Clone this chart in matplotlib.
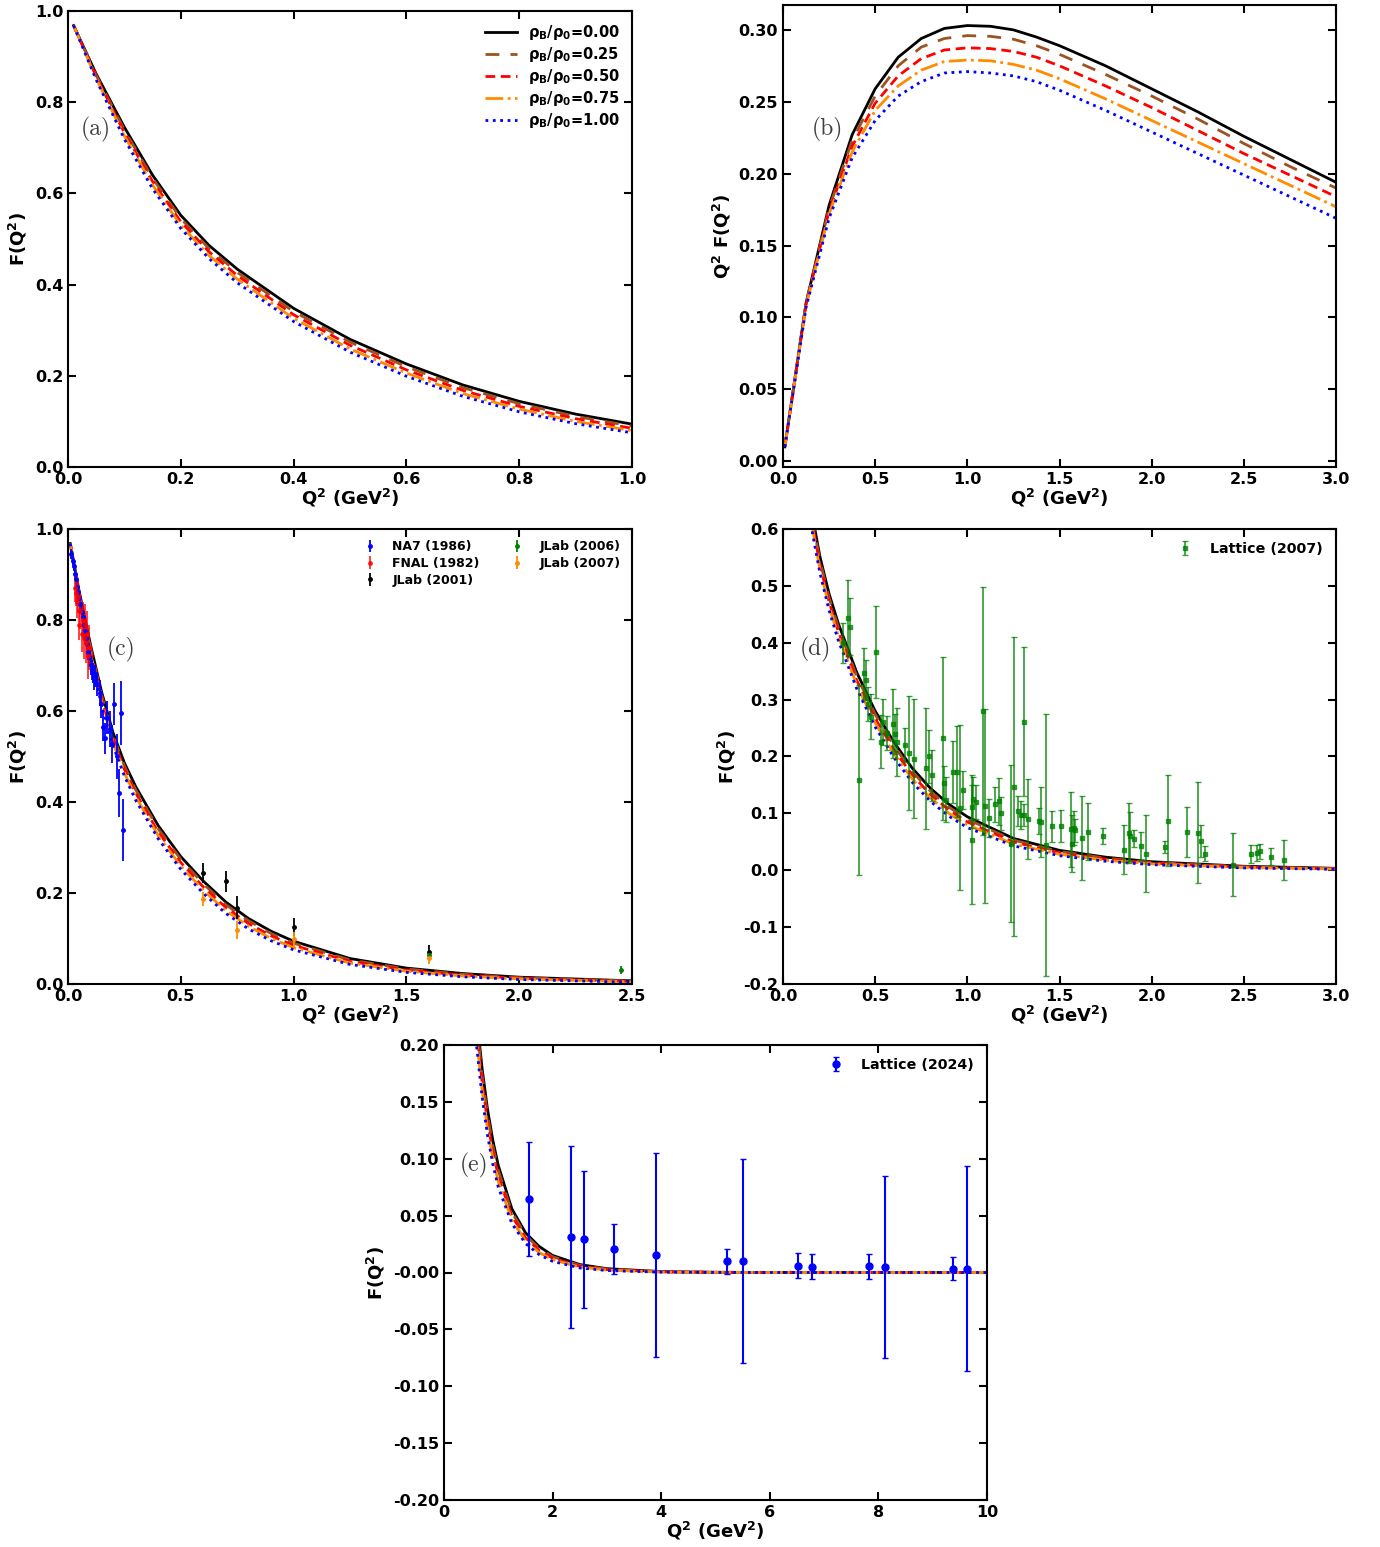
import matplotlib
matplotlib.use("Agg")
import matplotlib.pyplot as plt
import numpy as np

plt.rcParams['font.family'] = ['DejaVu Sans']
plt.rcParams['font.weight'] = 'bold'
plt.rcParams['axes.labelweight'] = 'bold'
plt.rcParams['mathtext.default'] = 'bf'
plt.rcParams['axes.linewidth'] = 1.5

# ---- model curves F(Q^2) for rho_B/rho_0 = 0, 0.25, 0.5, 0.75, 1 ----
q2 = [0.01, 0.05, 0.1, 0.15, 0.2, 0.25, 0.3, 0.4, 0.5, 0.6, 0.7, 0.8, 0.9, 1.0,
      1.25, 1.5, 1.75, 2.0, 2.5, 3.0, 4.0, 5.0, 6.0, 8.0, 10.0]
f_000 = [0.968, 0.862, 0.745, 0.640, 0.552, 0.486, 0.434, 0.348, 0.280, 0.226, 0.180, 0.144, 0.116, 0.094,
         0.056, 0.035, 0.023, 0.015, 0.0070, 0.0034, 0.0008, 0.0002, 0.00005, 0.0, 0.0]
f_025 = [0.968, 0.859, 0.739, 0.633, 0.545, 0.479, 0.427, 0.341, 0.274, 0.220, 0.174, 0.139, 0.111, 0.0896,
         0.0530, 0.0330, 0.0213, 0.0139, 0.0063, 0.0030, 0.0007, 0.00017, 0.00004, 0.0, 0.0]
f_050 = [0.968, 0.856, 0.733, 0.626, 0.538, 0.472, 0.420, 0.334, 0.267, 0.213, 0.168, 0.133, 0.106, 0.0849,
         0.0497, 0.0306, 0.0195, 0.0126, 0.0055, 0.0026, 0.0006, 0.00014, 0.00003, 0.0, 0.0]
f_075 = [0.968, 0.852, 0.726, 0.618, 0.530, 0.464, 0.412, 0.326, 0.259, 0.206, 0.161, 0.127, 0.100, 0.0798,
         0.0461, 0.0280, 0.0176, 0.0112, 0.0048, 0.0021, 0.0004, 0.0001, 0.00002, 0.0, 0.0]
f_100 = [0.968, 0.849, 0.719, 0.610, 0.523, 0.457, 0.404, 0.319, 0.252, 0.199, 0.155, 0.121, 0.095, 0.075,
         0.043, 0.0256, 0.0158, 0.0098, 0.0040, 0.0017, 0.0003, 0.00007, 0.00001, 0.0, 0.0]

# ---- Q^2 F(Q^2), panel (b) ----
q2_b = [0.01, 0.125, 0.25, 0.375, 0.5, 0.625, 0.75, 0.875, 1.0, 1.125, 1.25, 1.375, 1.5,
        1.75, 2.0, 2.25, 2.5, 2.75, 3.0]
qf_000 = [0.010, 0.110, 0.178, 0.227, 0.259, 0.281, 0.294, 0.301, 0.303, 0.3025, 0.300, 0.295, 0.289,
          0.275, 0.259, 0.243, 0.226, 0.210, 0.194]
qf_025 = [0.010, 0.110, 0.176, 0.223, 0.254, 0.275, 0.288, 0.294, 0.296, 0.2955, 0.2935, 0.289, 0.283,
          0.269, 0.254, 0.238, 0.221, 0.205, 0.190]
qf_050 = [0.010, 0.109, 0.174, 0.219, 0.249, 0.268, 0.280, 0.286, 0.2875, 0.287, 0.285, 0.281, 0.275,
          0.261, 0.246, 0.230, 0.214, 0.199, 0.184]
qf_075 = [0.010, 0.108, 0.172, 0.215, 0.244, 0.261, 0.272, 0.278, 0.279, 0.2785, 0.276, 0.272, 0.266,
          0.252, 0.237, 0.222, 0.207, 0.192, 0.177]
qf_100 = [0.010, 0.107, 0.169, 0.211, 0.237, 0.254, 0.264, 0.270, 0.271, 0.270, 0.268, 0.264, 0.258,
          0.244, 0.229, 0.214, 0.199, 0.184, 0.169]

rho_labels = [r'$\rho_B/\rho_0$=0.00', r'$\rho_B/\rho_0$=0.25', r'$\rho_B/\rho_0$=0.50',
              r'$\rho_B/\rho_0$=0.75', r'$\rho_B/\rho_0$=1.00']

# ---- experimental data, panel (c) ----
na7_q2 = [0.015, 0.020, 0.025, 0.030, 0.035, 0.040, 0.045, 0.050, 0.055, 0.060, 0.065, 0.070, 0.075,
          0.080, 0.085, 0.090, 0.095, 0.100, 0.105, 0.110, 0.115, 0.120, 0.130, 0.140, 0.145, 0.155,
          0.165, 0.175, 0.185, 0.195, 0.205, 0.215, 0.225, 0.235, 0.245]
na7_f = [0.945, 0.930, 0.918, 0.902, 0.890, 0.873, 0.862, 0.848, 0.836, 0.818, 0.806, 0.790, 0.776,
         0.760, 0.748, 0.730, 0.718, 0.700, 0.690, 0.684, 0.670, 0.676, 0.660, 0.640, 0.615, 0.565,
         0.540, 0.585, 0.560, 0.528, 0.615, 0.500, 0.420, 0.595, 0.338]
na7_err = [0.010, 0.010, 0.010, 0.011, 0.011, 0.012, 0.012, 0.013, 0.013, 0.014, 0.014, 0.015, 0.016,
           0.016, 0.017, 0.018, 0.019, 0.020, 0.021, 0.022, 0.023, 0.024, 0.026, 0.028, 0.030, 0.032,
           0.034, 0.036, 0.040, 0.042, 0.046, 0.050, 0.052, 0.070, 0.068]

fnal_q2 = [0.030, 0.035, 0.040, 0.045, 0.050, 0.055, 0.060, 0.065, 0.070, 0.075, 0.080, 0.085, 0.090, 0.095]
fnal_f = [0.870, 0.860, 0.840, 0.850, 0.790, 0.820, 0.770, 0.800, 0.760, 0.790, 0.750, 0.770, 0.720, 0.740]
fnal_err = [0.030, 0.030, 0.035, 0.035, 0.035, 0.040, 0.040, 0.040, 0.045, 0.045, 0.045, 0.050, 0.050, 0.050]

jlab01_q2 = [0.60, 0.70, 0.75, 1.00, 1.60]
jlab01_f = [0.245, 0.226, 0.168, 0.125, 0.071]
jlab01_err = [0.022, 0.023, 0.025, 0.020, 0.015]

jlab06_q2 = [1.60, 2.45]
jlab06_f = [0.064, 0.031]
jlab06_err = [0.010, 0.009]

jlab07_q2 = [0.60, 0.75, 1.00, 1.60]
jlab07_f = [0.187, 0.119, 0.098, 0.057]
jlab07_err = [0.015, 0.020, 0.016, 0.012]

# ---- lattice (2007), panel (d) ----
lat07_q2 = [0.324, 0.351, 0.366, 0.412, 0.441, 0.450, 0.462, 0.475, 0.507, 0.530, 0.543, 0.566, 0.599,
            0.610, 0.620, 0.662, 0.684, 0.713, 0.775, 0.790, 0.807, 0.869, 0.873, 0.884, 0.924, 0.946,
            0.960, 0.975, 1.024, 1.024, 1.033, 1.046, 1.084, 1.097, 1.115, 1.152, 1.172, 1.183, 1.237,
            1.251, 1.273, 1.292, 1.306, 1.306, 1.330, 1.390, 1.400, 1.428, 1.458, 1.508, 1.563, 1.568,
            1.578, 1.584, 1.620, 1.655, 1.735, 1.850, 1.878, 1.880, 1.904, 1.940, 1.970, 2.073, 2.090,
            2.190, 2.250, 2.270, 2.290, 2.440, 2.540, 2.570, 2.585, 2.650, 2.720]
lat07_f = [0.399, 0.443, 0.428, 0.159, 0.346, 0.335, 0.293, 0.270, 0.383, 0.226, 0.261, 0.241, 0.258,
           0.240, 0.226, 0.220, 0.206, 0.196, 0.179, 0.200, 0.167, 0.232, 0.153, 0.124, 0.173, 0.173,
           0.110, 0.141, 0.112, 0.054, 0.126, 0.120, 0.280, 0.113, 0.092, 0.116, 0.121, 0.100, 0.047,
           0.147, 0.104, 0.097, 0.261, 0.097, 0.090, 0.087, 0.085, 0.044, 0.077, 0.078, 0.072, 0.047,
           0.075, 0.070, 0.057, 0.068, 0.060, 0.036, 0.065, 0.060, 0.055, 0.043, 0.029, 0.041, 0.087,
           0.067, 0.066, 0.052, 0.029, 0.010, 0.029, 0.030, 0.033, 0.024, 0.018]
lat07_err = [0.035, 0.067, 0.050, 0.167, 0.045, 0.035, 0.030, 0.040, 0.081, 0.047, 0.040, 0.030, 0.060,
             0.035, 0.060, 0.030, 0.100, 0.105, 0.107, 0.047, 0.045, 0.143, 0.030, 0.040, 0.054, 0.080,
             0.145, 0.033, 0.038, 0.113, 0.038, 0.030, 0.218, 0.170, 0.034, 0.031, 0.041, 0.029, 0.138,
             0.263, 0.027, 0.025, 0.131, 0.020, 0.070, 0.023, 0.061, 0.230, 0.027, 0.028, 0.066, 0.050,
             0.030, 0.020, 0.074, 0.050, 0.014, 0.043, 0.053, 0.043, 0.015, 0.025, 0.068, 0.010, 0.080,
             0.044, 0.089, 0.028, 0.013, 0.056, 0.016, 0.014, 0.014, 0.015, 0.035]

# ---- lattice (2024), panel (e) ----
lat24_q2 = [1.563, 2.341, 2.580, 3.123, 3.908, 5.215, 5.512, 6.515, 6.768, 7.818, 8.122, 9.378, 9.636]
lat24_f = [0.0643, 0.0315, 0.0292, 0.0207, 0.0151, 0.0098, 0.0101, 0.0060, 0.0050, 0.0053, 0.0044, 0.0035, 0.0035]
lat24_err = [0.050, 0.080, 0.060, 0.0223, 0.0898, 0.011, 0.090, 0.011, 0.011, 0.011, 0.080, 0.0098, 0.0898]

colors = ['black', '#9c5221', 'red', 'darkorange', 'blue']
styles = ['-', (0, (5, 4)), (0, (3.5, 2)), '-.', ':']

W, H = 1380, 1547
fig = plt.figure(figsize=(W / 100, H / 100), dpi=100)


def ax_at(left, top, right, bottom):
    return fig.add_axes([left / W, 1 - bottom / H, (right - left) / W, (bottom - top) / H])


def style_axes(ax):
    ax.tick_params(direction='in', top=True, right=True, length=6, width=1.5, labelsize=11.5)
    ax.set_xlabel(r'Q$^2$ (GeV$^2$)', fontsize=13, labelpad=0)


def panel_tag(ax, s, x, y):
    ax.text(x, y, s, transform=ax.transAxes, fontfamily='cmr10', fontweight='normal',
            fontsize=17, color='0.25', ha='center', va='center')


def draw_curves(ax, x, ys, labels=None):
    for i, y in enumerate(ys):
        ax.plot(x, y, color=colors[i], linestyle=styles[i], lw=2,
                label=labels[i] if labels else None)


f_all = [f_000, f_025, f_050, f_075, f_100]

# (a)
ax = ax_at(68, 11, 632, 467)
draw_curves(ax, q2, f_all, rho_labels)
ax.set_xlim(0, 1)
ax.set_ylim(0, 1)
ax.set_xticks(np.arange(0, 1.01, 0.2))
ax.set_yticks(np.arange(0, 1.01, 0.2))
ax.set_ylabel(r'F(Q$^2$)', fontsize=13)
style_axes(ax)
ax.legend(loc='upper right', frameon=False, fontsize=10.5, handlelength=2.2, labelspacing=0.22,
          borderaxespad=0.4)
panel_tag(ax, '(a)', 0.05, 0.74)

# (b)
ax = ax_at(783, 5, 1336, 467)
draw_curves(ax, q2_b, [qf_000, qf_025, qf_050, qf_075, qf_100])
ax.set_xlim(0, 3)
ax.set_ylim(-0.004, 0.3173)
ax.set_xticks(np.arange(0, 3.01, 0.5))
ax.set_yticks(np.arange(0, 0.301, 0.05))
ax.yaxis.set_major_formatter(plt.FormatStrFormatter('%.2f'))
ax.set_ylabel(r'Q$^2$ F(Q$^2$)', fontsize=13)
style_axes(ax)
panel_tag(ax, '(b)', 0.08, 0.73)

# (c)
ax = ax_at(68, 529, 632, 984)
draw_curves(ax, q2, f_all)
eb = dict(fmt='o', ms=2.5, elinewidth=1.3, capsize=0)
ax.errorbar(na7_q2, na7_f, yerr=na7_err, color='blue', label='NA7 (1986)', **eb)
ax.errorbar(fnal_q2, fnal_f, yerr=fnal_err, color='red', alpha=0.8, label='FNAL (1982)', **eb)
ax.errorbar(jlab01_q2, jlab01_f, yerr=jlab01_err, color='black', label='JLab (2001)', **eb)
ax.errorbar(jlab06_q2, jlab06_f, yerr=jlab06_err, color='green', label='JLab (2006)', **eb)
ax.errorbar(jlab07_q2, jlab07_f, yerr=jlab07_err, color='darkorange', label='JLab (2007)', **eb)
ax.set_xlim(0, 2.5)
ax.set_ylim(0, 1)
ax.set_xticks(np.arange(0, 2.51, 0.5))
ax.set_yticks(np.arange(0, 1.01, 0.2))
ax.set_ylabel(r'F(Q$^2$)', fontsize=13)
style_axes(ax)
ax.legend(loc='upper right', frameon=False, fontsize=9, ncol=2, labelspacing=0.3)
panel_tag(ax, '(c)', 0.094, 0.736)

# (d)
ax = ax_at(783, 529, 1336, 984)
draw_curves(ax, q2, f_all)
ax.errorbar(lat07_q2, lat07_f, yerr=lat07_err, fmt='s', ms=2.2, color='green', elinewidth=1.3,
            capsize=2, alpha=0.75, label='Lattice (2007)')
ax.set_xlim(0, 3)
ax.set_ylim(-0.2, 0.6)
ax.set_xticks(np.arange(0, 3.01, 0.5))
ax.set_yticks(np.arange(-0.2, 0.61, 0.1))
ax.yaxis.set_major_formatter(plt.FormatStrFormatter('%.1f'))
ax.set_ylabel(r'F(Q$^2$)', fontsize=13)
style_axes(ax)
ax.legend(loc='upper right', frameon=False, fontsize=10.3)
panel_tag(ax, '(d)', 0.058, 0.736)

# (e)
ax = ax_at(444, 1045, 987, 1500)
draw_curves(ax, q2, f_all)
ax.errorbar(lat24_q2, lat24_f, yerr=lat24_err, fmt='o', ms=5, color='blue', elinewidth=1.5,
            capsize=2.5, label='Lattice (2024)')
ax.set_xlim(0, 10)
ax.set_ylim(-0.2, 0.2)
ax.set_xticks(np.arange(0, 10.1, 2))
ax.set_yticks(np.arange(-0.2, 0.201, 0.05))
ax.yaxis.set_major_formatter(plt.FormatStrFormatter('%.2f'))
ax.set_ylabel(r'F(Q$^2$)', fontsize=13)
style_axes(ax)
ax.legend(loc='upper right', frameon=False, fontsize=10.3)
panel_tag(ax, '(e)', 0.055, 0.736)

fig.savefig('out.png', dpi=100)
